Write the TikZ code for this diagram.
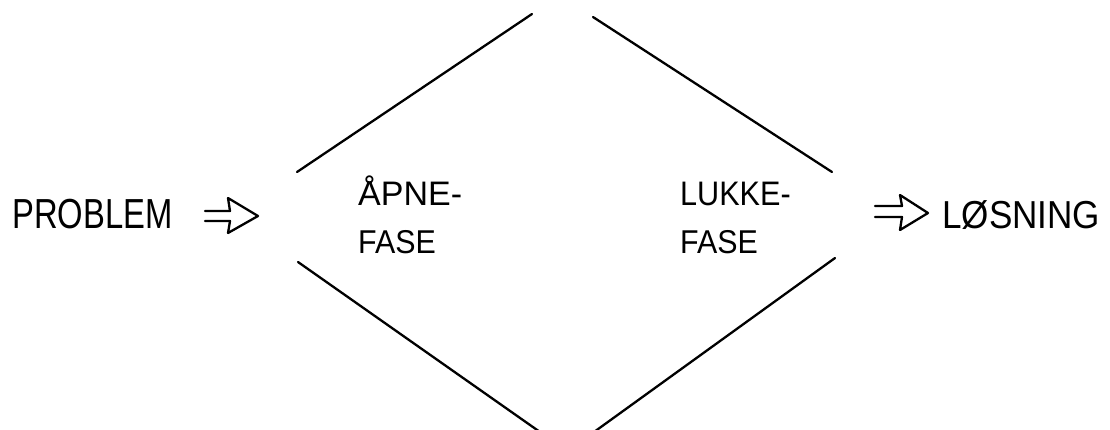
\documentclass[tikz,border=0pt]{standalone}
\usepackage{fontspec}
\setmainfont{Liberation Sans}
\begin{document}
\begin{tikzpicture}[x=1pt,y=-1pt,
  stroke/.style={line width=2.3pt,line cap=round,line join=round},
  lbl/.style={inner sep=0pt,anchor=base west}]
\useasboundingbox (0,0) rectangle (1110,429);
% diamond
\coordinate (tl1) at (297,172); \coordinate (tl2) at (532,14);
\coordinate (tr1) at (593,17);  \coordinate (tr2) at (832,172);
\coordinate (bl1) at (298,262); \coordinate (bl2) at (540,432);
\coordinate (br1) at (594,432); \coordinate (br2) at (835,258);
\draw[stroke] (tl1) -- (tl2);
\draw[stroke] (tr1) -- (tr2);
\draw[stroke] (bl1) -- (bl2);
\draw[stroke] (br1) -- (br2);
% labels
\node[lbl] (prob) at (12,228) {\fontsize{42}{42}\selectfont\scalebox{0.78}[1]{PROBLEM}};
\node[lbl] (los) at (942,228) {\fontsize{39}{39}\selectfont\scalebox{0.9}[1]{LØSNING}};
\node[lbl] (apne) at (358,205) {\fontsize{34}{34}\selectfont ÅPNE-};
\node[lbl] (fase1) at (358,253) {\fontsize{33}{33}\selectfont\scalebox{0.92}[1]{FASE}};
\node[lbl] (lukke) at (680,205) {\fontsize{34}{34}\selectfont\scalebox{0.9}[1]{LUKKE-}};
\node[lbl] (fase2) at (680,253) {\fontsize{33}{33}\selectfont\scalebox{0.92}[1]{FASE}};
% arrows
\draw[stroke] (205,211) -- (230,211) -- (228,198) -- (258,216) -- (228,233) -- (230,221) -- (205,221);
\draw[stroke] (875,206) -- (902,206) -- (900,195) -- (928,213) -- (900,230) -- (902,217) -- (875,217);
\end{tikzpicture}
\end{document}
